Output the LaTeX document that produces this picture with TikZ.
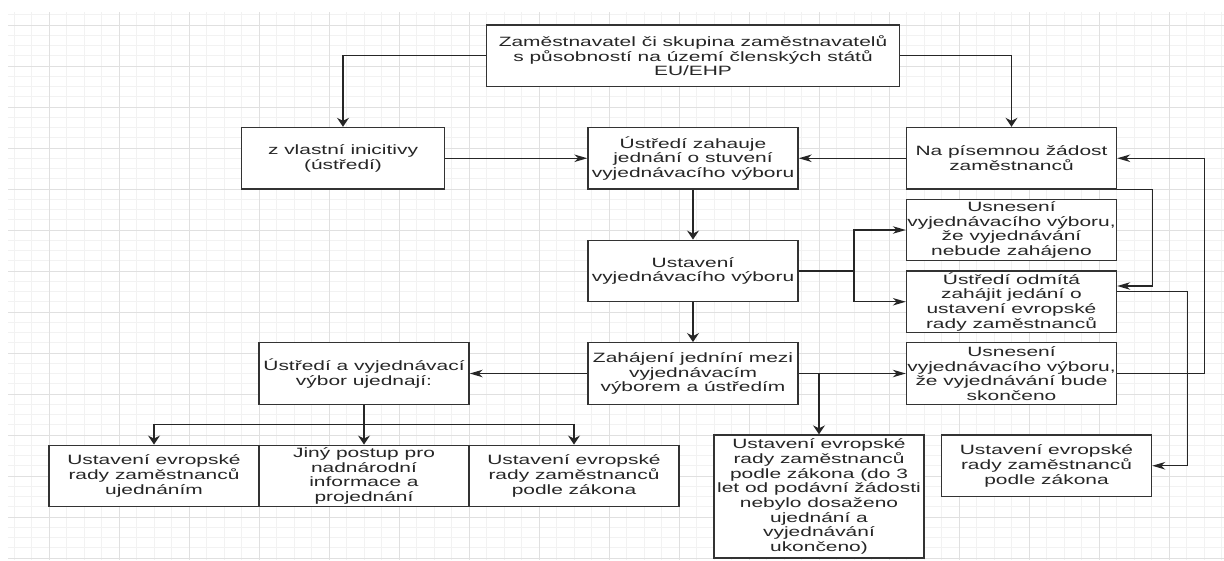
\documentclass[tikz,border=0pt]{standalone}
\usepackage{fontspec}
\setmainfont{Liberation Sans}[FakeStretch=1.55]
\usepackage{tikz}
\usetikzlibrary{arrows.meta}

\begin{document}
\begin{tikzpicture}[x=1pt, y=-1pt,
  box/.style={draw=black!80, line width=1.4pt, fill=white, inner sep=0pt, align=center,
    minimum width=210pt, minimum height=61.5pt, text=black!85,
    font=\fontsize{13.5}{14.7}\selectfont},
  hflow/.style={draw=black!85, line width=1.4pt, -{Stealth[length=13pt,width=7.5pt,inset=4pt]}},
  vflow/.style={draw=black!85, line width=1.4pt, -{Stealth[length=9pt,width=12pt,inset=3pt]}},
  link/.style={draw=black!85, line width=1.4pt},
  gridminor/.style={draw=black!5, line width=0.8pt},
  gridmajor/.style={draw=black!12, line width=1pt}]
\useasboundingbox (0,0) rectangle (1224,560);
\fill[white] (0,0) rectangle (1224,560);
% background grid
\begin{scope}
\clip (8,12) rectangle (1224,560);
\foreach \i in {-3,...,68} \draw[gridminor] ({49+17.5*\i},12) -- ({49+17.5*\i},560);
\foreach \j in {-2,...,53} \draw[gridminor] (8,{25+10.25*\j}) -- (1224,{25+10.25*\j});
\foreach \i in {-1,...,17} \draw[gridmajor] ({49+70*\i},12) -- ({49+70*\i},560);
\foreach \j in {-1,...,13} \draw[gridmajor] (8,{25+41*\j}) -- (1224,{25+41*\j});
\end{scope}

% boxes
\node[box, minimum width=413pt] (firma) at (693,55.75) {Zaměstnavatel či skupina zaměstnavatelů\\s působností na území členských států\\EU/EHP};
\node[box, minimum width=203pt] (vlastni) at (343,158.25) {z vlastní inicitivy\\(ústředí)};
\node[box] (zahajuje) at (693,158.25) {Ústředí zahauje\\jednání o stuvení\\vyjednávacího výboru};
\node[box] (pisemna) at (1011.5,158.25) {Na písemnou žádost\\zaměstnanců};
\node[box] (nebude) at (1011.5,230) {Usnesení\\vyjednávacího výboru,\\že vyjednávání\\nebude zahájeno};
\node[box] (odmita) at (1011.5,301.75) {Ústředí odmítá\\zahájit jedání o\\ustavení evropské\\rady zaměstnanců};
\node[box] (vybor) at (693,271) {Ustavení\\vyjednávacího výboru};
\node[box] (jednani) at (693,373.5) {Zahájení jedníní mezi\\vyjednávacím\\výborem a ústředím};
\node[box] (bude) at (1011.5,373.5) {Usnesení\\vyjednávacího výboru,\\že vyjednávání bude\\skončeno};
\node[box] (ujednaji) at (364,373.5) {Ústředí a vyjednávací\\výbor ujednají:};
\node[box] (dohoda) at (154,476) {Ustavení evropské\\rady zaměstnanců\\ujednáním};
\node[box] (jiny) at (364,476) {Jiný postup pro\\nadnárodní\\informace a\\projednání};
\node[box] (zakonA) at (574,476) {Ustavení evropské\\rady zaměstnanců\\podle zákona};
\node[box, minimum height=123pt] (zakonB) at (819,496.5) {Ustavení evropské\\rady zaměstnanců\\podle zákona (do 3\\let od podávní žádosti\\nebylo dosaženo\\ujednání a\\vyjednávání\\ukončeno)};
\node[box] (zakonC) at (1046.5,465.75) {Ustavení evropské\\rady zaměstnanců\\podle zákona};

% connectors
\coordinate (split) at (854,271);
\coordinate (fork) at (364,424.75);
\coordinate (drop) at (819,373.5);
\draw[vflow] (firma.west) -| (vlastni.north);
\draw[vflow] (firma.east) -| (pisemna.north);
\draw[hflow] (vlastni.east) -- (zahajuje.west);
\draw[hflow] (pisemna.west) -- (zahajuje.east);
\draw[vflow] (zahajuje) -- (vybor);
\draw[link] (vybor.east) -- (split);
\draw[hflow] (split) |- (nebude.west);
\draw[hflow] (split) |- (odmita.west);
\draw[vflow] (vybor) -- (jednani);
\draw[hflow] (jednani.east) -- (bude.west);
\draw[vflow] (drop) -- (zakonB.north);
\draw[hflow] (jednani.west) -- (ujednaji.east);
\draw[link] (ujednaji.south) -- (fork);
\draw[vflow] (fork) -| (dohoda.north);
\draw[vflow] (fork) -- (jiny.north);
\draw[vflow] (fork) -| (zakonA.north);
\draw[hflow] (bude.east) -- ++(87.5,0) |- (pisemna.east);
\draw[hflow] (pisemna.south east) -- ++(35,0) |- ([yshift=15.75pt]odmita.east);
\draw[hflow] ([yshift=10.25pt]odmita.east) -- ++(70,0) |- (zakonC.east);
\end{tikzpicture}
\end{document}
